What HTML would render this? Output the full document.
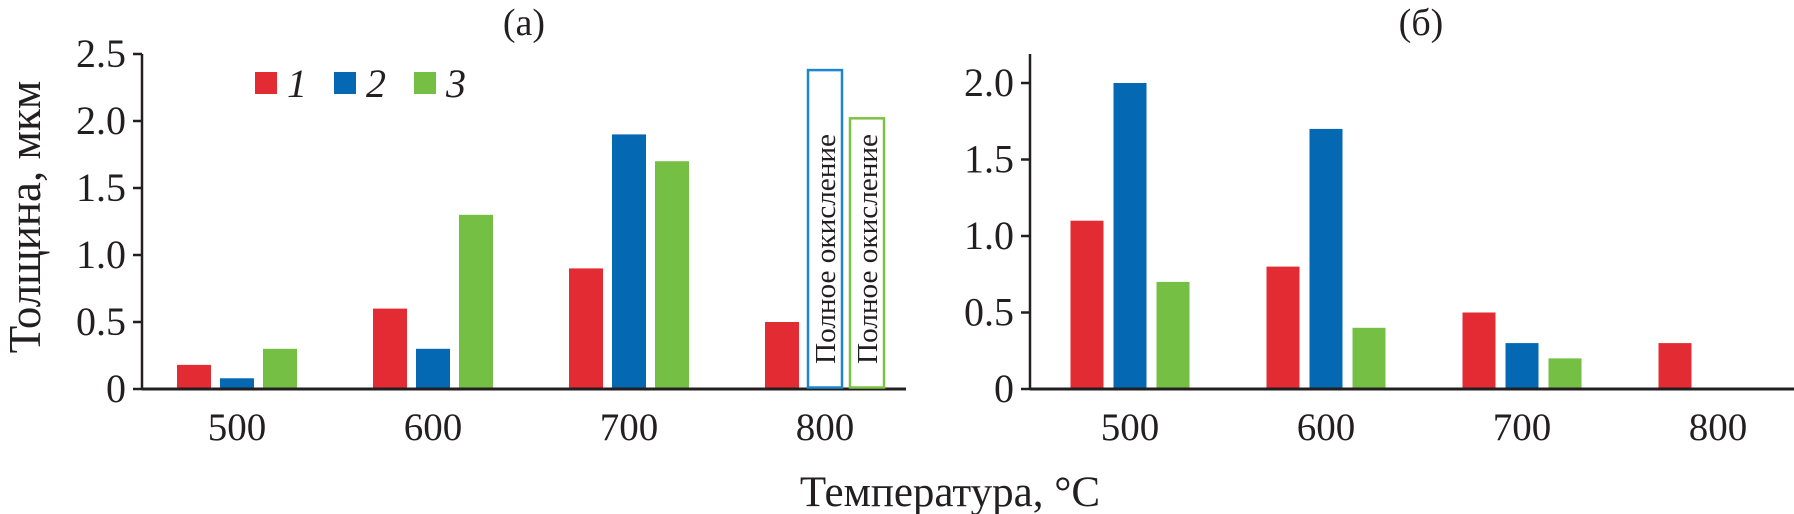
<!DOCTYPE html>
<html><head><meta charset="utf-8">
<style>
html,body{margin:0;padding:0;background:#fff;}
svg{display:block;font-family:"Liberation Serif",serif;}
</style></head>
<body>
<svg id="chart" width="1794" height="514" viewBox="0 0 1794 514" xmlns="http://www.w3.org/2000/svg"></svg>
<script>
const categories = ["500","600","700","800"];
const leftS1 = [0.18, 0.6, 0.9, 0.5];
const leftS2 = [0.08, 0.3, 1.9, null];
const leftS3 = [0.3, 1.3, 1.7, null];
const leftOutline2 = 2.38;
const leftOutline3 = 2.02;
const rightS1 = [1.1, 0.8, 0.5, 0.3];
const rightS2 = [2.0, 1.7, 0.3, 0];
const rightS3 = [0.7, 0.4, 0.2, 0];
const leftTicks = [0, 0.5, 1.0, 1.5, 2.0, 2.5];
const leftTickLabels = ["0","0.5","1.0","1.5","2.0","2.5"];
const rightTicks = [0, 0.5, 1.0, 1.5, 2.0];
const rightTickLabels = ["0","0.5","1.0","1.5","2.0"];
const seriesNames = ["1","2","3"];

const colors = ["#e22b32","#0568b2","#74bf44"];
const svg = document.getElementById('chart');
const NS = "http://www.w3.org/2000/svg";
function mk(tag, attrs, parent){
  const e = document.createElementNS(NS, tag);
  for (const k in attrs) e.setAttribute(k, attrs[k]);
  (parent||svg).appendChild(e);
  return e;
}
const base = 389;

function panel(p){
  const g = mk('g', {});
  
  
  const y = v => base - v * p.pxPer;
  const xc = i => p.x0 + i * 196;
  const ya = mk('line', {x1:p.axisX, y1:54, x2:p.axisX, y2:base, stroke:'#231f20','stroke-width':2.5}, g);
  
  
  p.ticks.forEach((t, i) => {
    const tk = mk('line', {x1:p.axisX-9, y1:y(t), x2:p.axisX, y2:y(t), stroke:'#231f20','stroke-width':2.5}, g);
    
    
    const tl = mk('text', {x:p.axisX-16, y:y(t)+13, 'text-anchor':'end','font-size':40, fill:'#231f20'}, g);
    tl.textContent = p.tickLabels[i];
    
    
  });
  categories.forEach((c, i) => {
    const cl = mk('text', {x:xc(i), y:440, 'text-anchor':'middle','font-size':39, fill:'#231f20'}, g);
    cl.textContent = c;
    
    
  });
  [p.s1, p.s2, p.s3].forEach((s, k) => {
    s.forEach((v, i) => {
      if (v === null || v === 0) return;
      const bx = xc(i) + (k-1)*p.step - p.bw/2;
      const r = mk('rect', {x:bx, y:y(v), width:p.bw, height:base-y(v), fill:colors[k]}, g);
      
      
    });
  });
  const xa = mk('line', {x1:p.axisX, y1:base, x2:p.xEnd, y2:base, stroke:'#231f20','stroke-width':3}, g);
  
  
  return {y, xc};
}

const L = panel({name:'panel-a', axisX:142, xEnd:906, x0:237, step:43, bw:34, pxPer:134,
  ticks:leftTicks, tickLabels:leftTickLabels, s1:leftS1, s2:leftS2, s3:leftS3});
[[leftOutline2,1],[leftOutline3,2]].forEach(([v,k]) => {
  const cx = L.xc(3) + (k-1)*43 + (k===2?-1:0);
  const bw = 34;
  const top = L.y(v);
  const r = mk('rect', {x:cx-bw/2, y:top, width:bw, height:base-top-1.5, fill:'none', stroke: k===1?'#1e86d0':'#7cc243','stroke-width':2.5});
  
  
  const t = mk('text', {x:0, y:0, 'font-size':29, fill:'#231f20', textLength:230, lengthAdjust:'spacingAndGlyphs', transform:'translate(' + (cx+10) + ',' + 364 + ') rotate(-90)'});
  t.textContent = 'Полное окисление';
  
  
});

panel({name:'panel-b', axisX:1030, xEnd:1794, x0:1130, step:43, bw:33, pxPer:153,
  ticks:rightTicks, tickLabels:rightTickLabels, s1:rightS1, s2:rightS2, s3:rightS3});

const legX = [255, 334, 414];
seriesNames.forEach((n, k) => {
  const sw = mk('rect', {x:legX[k], y:72, width:22, height:22, fill:colors[k]});
  
  
  const lt = mk('text', {x:legX[k]+32, y:97, 'font-size':40, 'font-style':'italic', fill:'#231f20'});
  lt.textContent = n;
  
  
});

const ta = mk('text', {x:524, y:35, 'text-anchor':'middle','font-size':38, fill:'#231f20'});
ta.textContent = '(а)';


const tb = mk('text', {x:1421, y:35, 'text-anchor':'middle','font-size':38, fill:'#231f20'});
tb.textContent = '(б)';


const xt = mk('text', {x:950, y:506, 'text-anchor':'middle','font-size':43, fill:'#231f20'});
xt.textContent = 'Температура, °C';


const yt = mk('text', {x:0, y:0, 'text-anchor':'middle','font-size':45, fill:'#231f20', transform:'translate(40,217) rotate(-90)'});
yt.textContent = 'Толщина, мкм';


</script>
</body></html>
